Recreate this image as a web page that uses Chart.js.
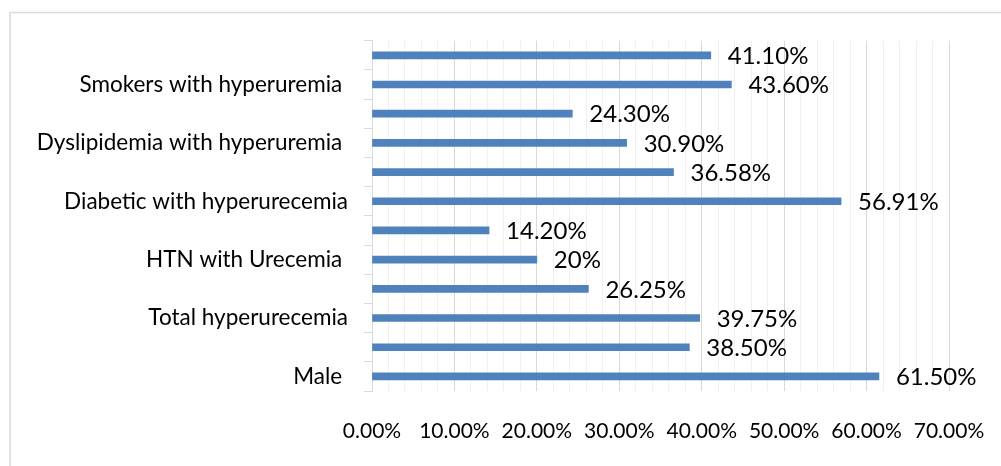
<!DOCTYPE html>
<html>
<head>
<meta charset="utf-8">
<script src="https://cdn.jsdelivr.net/npm/chart.js@4.4.1/dist/chart.umd.min.js"></script>
<style>
  html, body { margin: 0; padding: 0; background: #fff; overflow: hidden; }
  canvas { display: block; }
</style>
</head>
<body>
<canvas id="hyperChart" width="1001" height="466"></canvas>
<script>
// rows listed top to bottom, as in the picture
var categories = ['', 'Smokers with hyperuremia ', '', 'Dyslipidemia with hyperuremia ', '',
    'Diabetic with hyperurecemia', '', 'HTN with Urecemia ', '', 'Total hyperurecemia', '', 'Male '];
var values = [41.10, 43.60, 24.30, 30.90, 36.58, 56.91, 14.20, 20, 26.25, 39.75, 38.50, 61.50];
var valueLabels = ['41.10%', '43.60%', '24.30%', '30.90%', '36.58%', '56.91%',
    '14.20%', '20%', '26.25%', '39.75%', '38.50%', '61.50%'];
var xMin = 0, xMax = 70, xMinorStep = 2, xMajorStep = 10;

var FONT = 'Lato, "Open Sans", sans-serif';

// outer chart frame (only top and left edges are inside the picture)
var framePlugin = {
    id: 'frame',
    beforeDraw: function (chart) {
        var ctx = chart.ctx;
        ctx.save();
        ctx.strokeStyle = '#d9d9d9';
        ctx.lineWidth = 1.5;
        ctx.beginPath();
        ctx.moveTo(10, chart.height + 5);
        ctx.lineTo(10, 12.5);
        ctx.lineTo(chart.width + 5, 12.5);
        ctx.stroke();
        ctx.restore();
    }
};

// value labels to the right of each bar
var barLabels = {
    id: 'barLabels',
    afterDatasetsDraw: function (chart) {
        var ctx = chart.ctx;
        var meta = chart.getDatasetMeta(0);
        ctx.save();
        ctx.font = '24px ' + FONT;
        ctx.fillStyle = '#000';
        ctx.textAlign = 'left';
        ctx.textBaseline = 'middle';
        meta.data.forEach(function (bar, i) {
            ctx.fillText(valueLabels[i], bar.x + 17, bar.y + 1);
        });
        ctx.restore();
    }
};

var ctx = document.getElementById('hyperChart');
new Chart(ctx, {
    type: 'bar',
    data: {
        labels: categories,
        datasets: [{
            data: values,
            backgroundColor: '#4f81bd',
            borderWidth: 0,
            barThickness: 7
        }]
    },
    options: {
        indexAxis: 'y',
        responsive: false,
        animation: false,
        layout: {
            padding: { top: 40.7, right: 52, bottom: 0, left: 0 }
        },
        plugins: {
            legend: { display: false },
            tooltip: { enabled: false }
        },
        scales: {
            x: {
                min: xMin,
                max: xMax,
                afterFit: function (scale) {
                    scale.height = 75;
                    scale.paddingLeft = 0;
                    scale.paddingRight = 0;
                },
                grid: {
                    drawTicks: false,
                    color: function (c) {
                        return c.tick && c.tick.value % xMajorStep === 0 ? '#d9d9d9' : '#f0f0f0';
                    }
                },
                border: { display: false },
                ticks: {
                    stepSize: xMinorStep,
                    autoSkip: false,
                    maxRotation: 0,
                    minRotation: 0,
                    padding: 28,
                    color: '#000',
                    font: { family: FONT, size: 21 },
                    callback: function (value) {
                        return value % xMajorStep === 0 ? value.toFixed(2) + '%' : '';
                    }
                }
            },
            y: {
                afterFit: function (scale) { scale.width = 372; },
                grid: {
                    drawOnChartArea: false,
                    drawTicks: true,
                    tickLength: 8,
                    color: '#d9d9d9'
                },
                border: { display: true, color: '#d9d9d9' },
                ticks: {
                    autoSkip: false,
                    padding: 16,
                    color: '#000',
                    font: { family: FONT, size: 22.5 }
                }
            }
        }
    },
    plugins: [framePlugin, barLabels]
});
</script>
</body>
</html>
